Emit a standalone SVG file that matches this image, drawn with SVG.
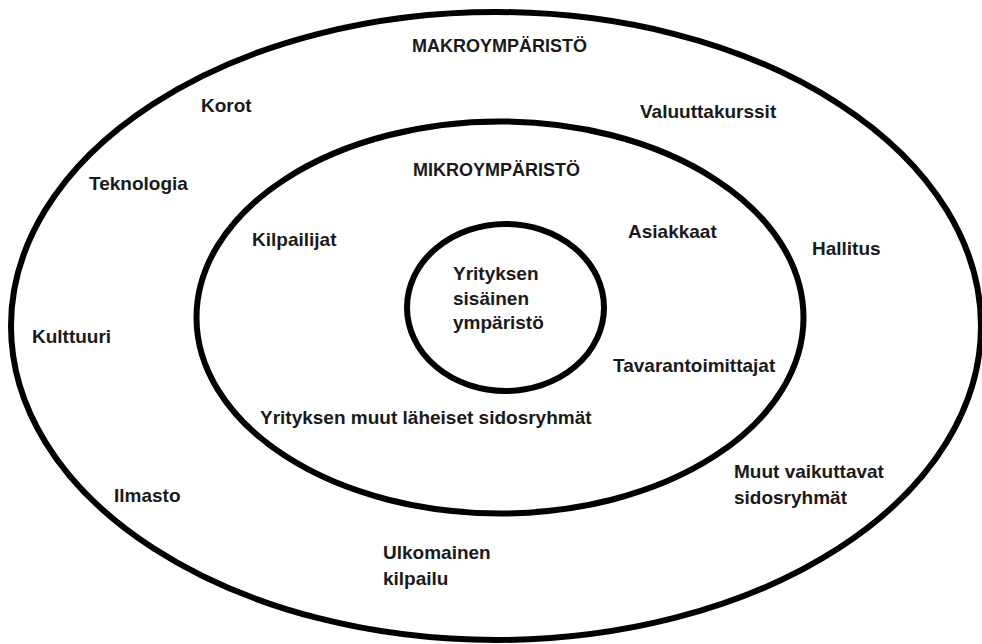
<svg xmlns="http://www.w3.org/2000/svg" width="982" height="644" viewBox="0 0 982 644">
<style>
.ring{fill:none;stroke:#000;stroke-width:6}
.t{font-family:"Liberation Sans",Arial,sans-serif;font-weight:bold;font-size:19px;fill:#1a1a1a}
.h{font-size:18px}
</style>
<rect width="982" height="644" fill="#fff"/>
<g id="makro">
<ellipse class="ring" cx="496" cy="326" rx="485" ry="314"/>
<text class="t h" x="412" y="52">MAKROYMPÄRISTÖ</text>
<text class="t" x="201" y="112">Korot</text>
<text class="t" x="640" y="118">Valuuttakurssit</text>
<text class="t" x="89" y="190">Teknologia</text>
<text class="t" x="812" y="255">Hallitus</text>
<text class="t" x="32" y="343">Kulttuuri</text>
<text class="t" x="114" y="502">Ilmasto</text>
<text class="t" x="734" y="478">Muut vaikuttavat</text>
<text class="t" x="734" y="504">sidosryhmät</text>
<text class="t" x="383" y="559">Ulkomainen</text>
<text class="t" x="383" y="585">kilpailu</text>
</g>
<g id="mikro">
<ellipse class="ring" cx="500" cy="317.5" rx="303.5" ry="196"/>
<text class="t h" x="413" y="176">MIKROYMPÄRISTÖ</text>
<text class="t" x="252" y="246">Kilpailijat</text>
<text class="t" x="628" y="238">Asiakkaat</text>
<text class="t" x="613" y="372">Tavarantoimittajat</text>
<text class="t" x="260" y="424">Yrityksen muut läheiset sidosryhmät</text>
</g>
<g id="sisainen">
<ellipse class="ring" cx="505.5" cy="307.5" rx="98.5" ry="83.5"/>
<text class="t" x="453" y="280">Yrityksen</text>
<text class="t" x="453" y="305">sisäinen</text>
<text class="t" x="453" y="329">ympäristö</text>
</g>
<g id="connectors"/>
</svg>
